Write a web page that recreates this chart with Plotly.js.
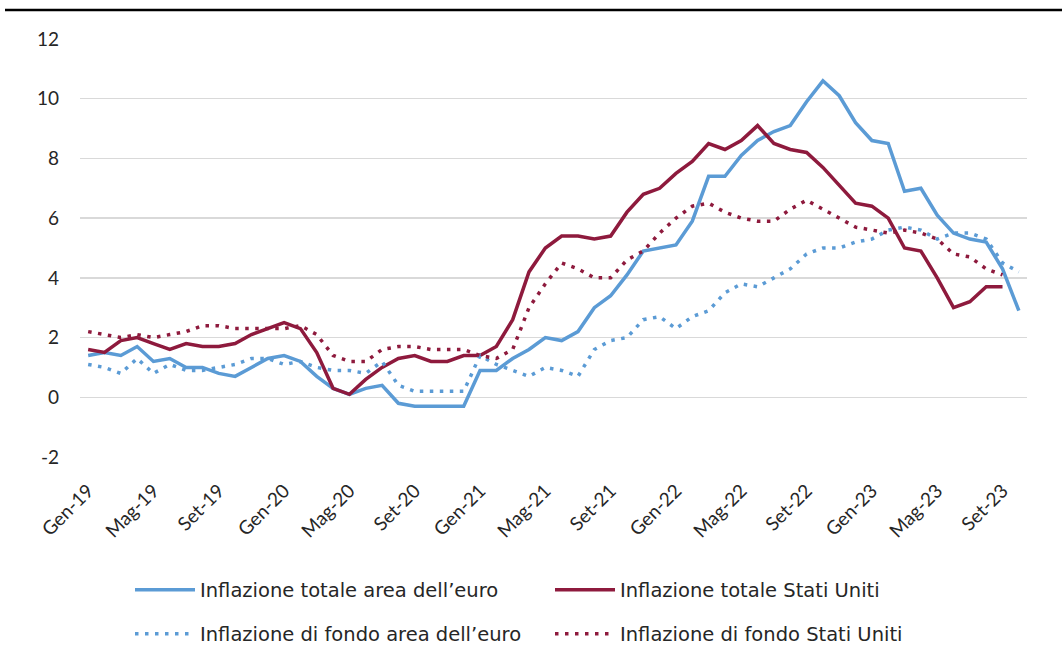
<!DOCTYPE html>
<html>
<head>
<meta charset="utf-8">
<script src="https://cdn.plot.ly/plotly-3.0.1.min.js"></script>
<style>
  html, body { margin: 0; padding: 0; background: #fff; }
  #chart { width: 1062px; height: 669px; }
</style>
</head>
<body>
<div id="chart"></div>
<script>
// Months Jan-2019 .. Oct-2023 (Italian abbreviations)
const monthNames = ["Gen","Feb","Mar","Apr","Mag","Giu","Lug","Ago","Set","Ott","Nov","Dic"];
const years = ["19","20","21","22","23"];
const months = [];
for (const y of years) for (const m of monthNames) months.push(m + "-" + y);
const categories = months.slice(0, 58);

// Tick labels shown every 4 months
const tickLabels = ["Gen-19","Mag-19","Set-19","Gen-20","Mag-20","Set-20","Gen-21","Mag-21","Set-21","Gen-22","Mag-22","Set-22","Gen-23","Mag-23","Set-23"];
const yTickVals = [-2, 0, 2, 4, 6, 8, 10, 12];
const yTickText = ["-2", "0", "2", "4", "6", "8", "10", "12"];

// Headline inflation, euro area (Jan-19 .. Oct-23)
const euroHeadline = [
  1.4, 1.5, 1.4, 1.7, 1.2, 1.3, 1.0, 1.0, 0.8, 0.7, 1.0, 1.3,
  1.4, 1.2, 0.7, 0.3, 0.1, 0.3, 0.4, -0.2, -0.3, -0.3, -0.3, -0.3,
  0.9, 0.9, 1.3, 1.6, 2.0, 1.9, 2.2, 3.0, 3.4, 4.1, 4.9, 5.0,
  5.1, 5.9, 7.4, 7.4, 8.1, 8.6, 8.9, 9.1, 9.9, 10.6, 10.1, 9.2,
  8.6, 8.5, 6.9, 7.0, 6.1, 5.5, 5.3, 5.2, 4.3, 2.9
];

// Headline inflation, United States (Jan-19 .. Sep-23)
const usHeadline = [
  1.6, 1.5, 1.9, 2.0, 1.8, 1.6, 1.8, 1.7, 1.7, 1.8, 2.1, 2.3,
  2.5, 2.3, 1.5, 0.3, 0.1, 0.6, 1.0, 1.3, 1.4, 1.2, 1.2, 1.4,
  1.4, 1.7, 2.6, 4.2, 5.0, 5.4, 5.4, 5.3, 5.4, 6.2, 6.8, 7.0,
  7.5, 7.9, 8.5, 8.3, 8.6, 9.1, 8.5, 8.3, 8.2, 7.7, 7.1, 6.5,
  6.4, 6.0, 5.0, 4.9, 4.0, 3.0, 3.2, 3.7, 3.7
];

// Core inflation, euro area (Jan-19 .. Oct-23)
const euroCore = [
  1.1, 1.0, 0.8, 1.3, 0.8, 1.1, 0.9, 0.9, 1.0, 1.1, 1.3, 1.3,
  1.1, 1.2, 1.0, 0.9, 0.9, 0.8, 1.2, 0.4, 0.2, 0.2, 0.2, 0.2,
  1.4, 1.1, 0.9, 0.7, 1.0, 0.9, 0.7, 1.6, 1.9, 2.0, 2.6, 2.7,
  2.3, 2.7, 2.9, 3.5, 3.8, 3.7, 4.0, 4.3, 4.8, 5.0, 5.0, 5.2,
  5.3, 5.6, 5.7, 5.6, 5.3, 5.5, 5.5, 5.3, 4.5, 4.2
];

// Core inflation, United States (Jan-19 .. Sep-23)
const usCore = [
  2.2, 2.1, 2.0, 2.1, 2.0, 2.1, 2.2, 2.4, 2.4, 2.3, 2.3, 2.3,
  2.3, 2.4, 2.1, 1.4, 1.2, 1.2, 1.6, 1.7, 1.7, 1.6, 1.6, 1.6,
  1.4, 1.3, 1.6, 3.0, 3.8, 4.5, 4.3, 4.0, 4.0, 4.6, 4.9, 5.5,
  6.0, 6.4, 6.5, 6.2, 6.0, 5.9, 5.9, 6.3, 6.6, 6.3, 6.0, 5.7,
  5.6, 5.5, 5.6, 5.5, 5.3, 4.8, 4.7, 4.3, 4.1
];

const seriesNames = [
  "Inflazione totale area dell’euro",
  "Inflazione totale Stati Uniti",
  "Inflazione di fondo area dell’euro",
  "Inflazione di fondo Stati Uniti"
];

const BLUE = "#5B9BD5";
const RED = "#8E1A3D";
const DOT = "3.5px,6.5px";

const traces = [
  { x: categories.slice(0, euroHeadline.length), y: euroHeadline, name: seriesNames[0], legend: "legend",
    type: "scatter", mode: "lines", line: { color: BLUE, width: 3.5 } },
  { x: categories.slice(0, usHeadline.length), y: usHeadline, name: seriesNames[1], legend: "legend2",
    type: "scatter", mode: "lines", line: { color: RED, width: 3.5 } },
  { x: categories.slice(0, euroCore.length), y: euroCore, name: seriesNames[2], legend: "legend3",
    type: "scatter", mode: "lines", line: { color: BLUE, width: 3.5, dash: DOT } },
  { x: categories.slice(0, usCore.length), y: usCore, name: seriesNames[3], legend: "legend4",
    type: "scatter", mode: "lines", line: { color: RED, width: 3.5, dash: DOT } }
];

const FONT = "Lato, 'Noto Sans', sans-serif";
const LEGEND_FONT = "'DejaVu Sans', 'Noto Sans', sans-serif";
function legendAt(px, py) {
  return {
    orientation: "v",
    xanchor: "left",
    yanchor: "middle",
    x: (px - 80) / 947,
    y: (457 - py) / 418,
    itemwidth: 60,
    font: { family: LEGEND_FONT, size: 19.5, color: "#262626" },
    bgcolor: "rgba(0,0,0,0)",
    itemclick: false
  };
}

const layout = {
  width: 1062,
  height: 669,
  margin: { l: 80, r: 35, t: 39, b: 212 },
  paper_bgcolor: "#fff",
  plot_bgcolor: "#fff",
  font: { family: FONT, size: 19, color: "#262626" },
  showlegend: true,
  legend: legendAt(130, 590),
  legend2: legendAt(550, 590),
  legend3: legendAt(130, 634),
  legend4: legendAt(550, 634),
  xaxis: {
    type: "category",
    categoryorder: "array",
    categoryarray: categories,
    range: [-0.5, categories.length - 0.5],
    tickmode: "array",
    tickvals: tickLabels,
    ticktext: tickLabels,
    tickangle: -45,
    showgrid: false,
    zeroline: false,
    showline: false,
    ticks: "",
    ticklabelstandoff: 18,
    tickfont: { family: FONT, size: 19, color: "#262626" }
  },
  yaxis: {
    range: [-2, 12],
    tickmode: "array",
    tickvals: yTickVals,
    ticktext: yTickText,
    showgrid: true,
    gridcolor: "#d9d9d9",
    gridwidth: 1.3,
    zeroline: false,
    showline: false,
    ticks: "",
    ticklabelstandoff: 20,
    tickfont: { family: FONT, size: 19, color: "#262626" }
  },
  shapes: [
    { type: "line", xref: "paper", yref: "paper",
      x0: (5 - 80) / 947, x1: (1062 - 80) / 947,
      y0: 1 + (39 - 10) / 418, y1: 1 + (39 - 10) / 418,
      line: { color: "#000", width: 2.5 } }
  ]
};

Plotly.newPlot("chart", traces, layout, { displayModeBar: false, staticPlot: true });
</script>
</body>
</html>
